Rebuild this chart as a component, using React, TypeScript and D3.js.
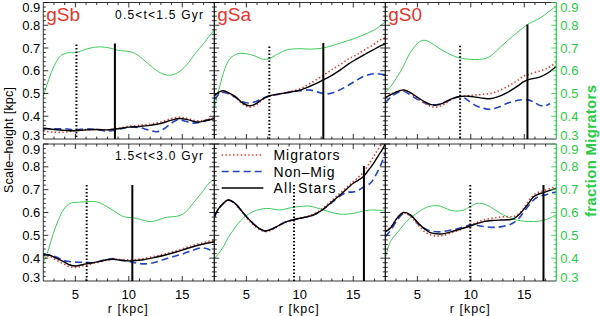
import React from 'react';
import * as d3 from 'd3';

// radius grid (kpc) and scale-height / fraction values
type Pt = [number, number];

const panelNames = ['gSb', 'gSa', 'gS0'];
const periodLabels = ['0.5<t<1.5  Gyr', '1.5<t<3.0  Gyr'];
const legendLabels = ['Migrators', 'Non\u2013Mig', 'All Stars'];
const xTicks = [5, 10, 15];
const yTicks = [0.3, 0.4, 0.5, 0.6, 0.7, 0.8, 0.9];

// ---- early period (0.5<t<1.5 Gyr) ----
const gSbEarlyFrac: Pt[] = [[2, 0.487], [2.5, 0.56], [3, 0.62], [3.6, 0.665], [4.2, 0.678], [5.1, 0.68], [6, 0.695], [7.2, 0.705], [8.2, 0.7], [9, 0.69], [10.4, 0.68], [11.3, 0.652], [12.2, 0.615], [13, 0.59], [13.8, 0.58], [14.6, 0.592], [15.4, 0.625], [16.2, 0.675], [17, 0.72], [18, 0.78]];
const gSbEarlyAll: Pt[] = [[2, 0.347], [3, 0.342], [4, 0.338], [5, 0.336], [6, 0.34], [7, 0.342], [8, 0.34], [9, 0.345], [10, 0.352], [11, 0.355], [12, 0.36], [13, 0.368], [14, 0.383], [14.8, 0.39], [15.5, 0.385], [16.3, 0.375], [17, 0.378], [18, 0.39]];
const gSbEarlyMig: Pt[] = [[2, 0.335], [3, 0.33], [4, 0.33], [4.7, 0.335], [5.5, 0.34], [7, 0.342], [8, 0.34], [9, 0.347], [10, 0.355], [11, 0.36], [12, 0.365], [13, 0.375], [14, 0.39], [14.8, 0.395], [15.5, 0.39], [16.3, 0.38], [17, 0.382], [18, 0.395]];
const gSbEarlyNon: Pt[] = [[2, 0.345], [3, 0.345], [4, 0.345], [5, 0.34], [6, 0.345], [7, 0.342], [8, 0.335], [9, 0.342], [10, 0.352], [11, 0.35], [11.8, 0.34], [12.6, 0.332], [13.3, 0.345], [14, 0.37], [14.6, 0.385], [15.3, 0.378], [16, 0.37], [16.8, 0.375], [17.5, 0.385], [18, 0.38]];

const gSaEarlyFrac: Pt[] = [[2, 0.435], [2.5, 0.53], [3, 0.61], [3.5, 0.655], [4.2, 0.675], [5, 0.675], [5.8, 0.665], [6.6, 0.65], [7.2, 0.655], [8, 0.675], [8.8, 0.692], [10, 0.697], [11, 0.695], [12.2, 0.7], [13, 0.71], [13.8, 0.722], [15, 0.74], [15.8, 0.755], [17, 0.78], [18, 0.815]];
const gSaEarlyAll: Pt[] = [[2, 0.49], [2.4, 0.505], [2.8, 0.512], [3.4, 0.502], [4, 0.485], [4.6, 0.46], [5.3, 0.446], [5.9, 0.455], [6.5, 0.475], [7.2, 0.49], [8, 0.497], [8.8, 0.504], [10, 0.515], [11, 0.533], [12.2, 0.56], [13, 0.58], [13.8, 0.604], [14.5, 0.628], [15.3, 0.651], [16, 0.67], [16.9, 0.693], [17.5, 0.708], [18, 0.718]];
const gSaEarlyMig: Pt[] = [[2, 0.488], [2.4, 0.503], [2.8, 0.51], [3.4, 0.5], [4, 0.482], [4.6, 0.455], [5.3, 0.44], [5.9, 0.45], [6.5, 0.472], [7.2, 0.49], [8, 0.497], [8.8, 0.506], [10, 0.52], [11, 0.545], [12.2, 0.58], [13, 0.605], [13.8, 0.628], [14.5, 0.65], [15.3, 0.67], [16, 0.69], [16.9, 0.715], [17.5, 0.735], [18, 0.745]];
const gSaEarlyNon: Pt[] = [[2, 0.472], [2.4, 0.495], [2.8, 0.505], [3.4, 0.497], [4, 0.482], [4.6, 0.465], [5.2, 0.458], [5.9, 0.465], [6.5, 0.478], [7.2, 0.49], [8, 0.497], [8.8, 0.504], [10, 0.512], [11, 0.515], [11.8, 0.505], [12.5, 0.498], [13.2, 0.505], [13.8, 0.517], [14.5, 0.535], [15.2, 0.555], [16, 0.576], [17, 0.587], [18, 0.582]];

const gS0EarlyFrac: Pt[] = [[2, 0.504], [2.5, 0.53], [3, 0.565], [3.7, 0.62], [4.2, 0.67], [4.7, 0.703], [5.2, 0.728], [5.6, 0.734], [6, 0.73], [6.5, 0.716], [7, 0.7], [7.8, 0.678], [8.5, 0.663], [9, 0.656], [10, 0.65], [10.8, 0.65], [11.5, 0.656], [12.2, 0.678], [12.8, 0.705], [13.5, 0.735], [14.3, 0.766], [15.3, 0.803], [16.5, 0.832], [17.3, 0.86], [18, 0.885]];
const gS0EarlyAll: Pt[] = [[2, 0.482], [2.5, 0.494], [3, 0.506], [3.7, 0.516], [4.3, 0.505], [4.8, 0.49], [5.6, 0.466], [6.2, 0.452], [6.8, 0.449], [7.4, 0.458], [8, 0.472], [8.5, 0.482], [9, 0.487], [9.8, 0.488], [10.5, 0.484], [11.2, 0.479], [11.8, 0.477], [12.5, 0.485], [13.4, 0.504], [14.3, 0.53], [15, 0.553], [15.5, 0.562], [16.5, 0.573], [17.2, 0.59], [18, 0.62]];
const gS0EarlyMig: Pt[] = [[2, 0.485], [2.5, 0.496], [3, 0.508], [3.7, 0.516], [4.3, 0.503], [4.8, 0.486], [5.6, 0.46], [6.2, 0.445], [6.8, 0.44], [7.4, 0.45], [8, 0.468], [8.5, 0.48], [9, 0.487], [9.8, 0.49], [10.5, 0.494], [11.2, 0.497], [11.8, 0.5], [12.5, 0.51], [13.4, 0.53], [14.3, 0.555], [15, 0.578], [15.5, 0.585], [16.5, 0.6], [17.2, 0.612], [18, 0.636]];
const gS0EarlyNon: Pt[] = [[2, 0.459], [2.5, 0.484], [3, 0.5], [3.7, 0.51], [4.3, 0.495], [5, 0.475], [5.7, 0.458], [6.5, 0.45], [7.2, 0.455], [7.8, 0.466], [8.5, 0.48], [9, 0.487], [9.5, 0.478], [10, 0.46], [10.6, 0.444], [11.2, 0.435], [11.8, 0.431], [12.5, 0.438], [13.4, 0.457], [14.3, 0.469], [15.2, 0.473], [15.8, 0.465], [16.5, 0.447], [17, 0.446], [17.4, 0.456]];

// ---- late period (1.5<t<3.0 Gyr) ----
const gSbLateFrac: Pt[] = [[2, 0.377], [2.5, 0.44], [2.94, 0.509], [3.4, 0.565], [3.87, 0.611], [4.5, 0.64], [5.4, 0.645], [6.2, 0.648], [7, 0.647], [7.6, 0.635], [8.24, 0.618], [9, 0.595], [9.5, 0.582], [10.7, 0.575], [11.4, 0.565], [12, 0.56], [12.8, 0.568], [13.5, 0.579], [14.2, 0.582], [14.8, 0.587], [15.4, 0.605], [16, 0.64], [16.8, 0.685], [17.5, 0.728], [18, 0.745]];
const gSbLateAll: Pt[] = [[2, 0.414], [2.6, 0.413], [3.2, 0.4], [3.9, 0.385], [4.5, 0.37], [5.1, 0.366], [6, 0.375], [7.2, 0.385], [8, 0.393], [8.55, 0.395], [9.3, 0.39], [10.1, 0.388], [11.35, 0.393], [12.6, 0.405], [13.5, 0.415], [14.5, 0.428], [15.3, 0.44], [16, 0.45], [17, 0.462], [18, 0.472]];
const gSbLateMig: Pt[] = [[2, 0.41], [2.6, 0.408], [3.2, 0.392], [3.9, 0.375], [4.5, 0.362], [5.1, 0.36], [6, 0.37], [7.2, 0.383], [8, 0.392], [8.55, 0.396], [9.3, 0.393], [10.1, 0.392], [11.35, 0.398], [12.6, 0.41], [13.5, 0.42], [14.5, 0.433], [15.3, 0.445], [16, 0.456], [17, 0.468], [18, 0.48]];
const gSbLateNon: Pt[] = [[2, 0.416], [2.6, 0.414], [3.2, 0.405], [3.9, 0.39], [4.5, 0.385], [5.3, 0.382], [6, 0.382], [6.7, 0.38], [7.5, 0.39], [8.5, 0.398], [9.3, 0.392], [10.1, 0.385], [10.8, 0.378], [11.5, 0.375], [12.3, 0.38], [13, 0.39], [14, 0.405], [15, 0.418], [16, 0.435], [16.8, 0.445], [17.4, 0.44], [18, 0.425]];

const gSaLateFrac: Pt[] = [[2, 0.399], [2.4, 0.42], [2.84, 0.45], [3.3, 0.49], [3.78, 0.523], [4.2, 0.55], [4.7, 0.575], [5.2, 0.592], [5.65, 0.604], [6.3, 0.614], [6.9, 0.618], [7.5, 0.615], [8.1, 0.611], [8.8, 0.617], [9.4, 0.623], [10.2, 0.627], [10.95, 0.628], [11.6, 0.62], [12.2, 0.611], [13, 0.6], [13.76, 0.593], [14.4, 0.593], [15, 0.596], [15.8, 0.605], [16.6, 0.611], [17.3, 0.61], [18, 0.607]];
const gSaLateAll: Pt[] = [[2, 0.582], [2.3, 0.61], [2.69, 0.633], [3.3, 0.655], [3.94, 0.64], [4.5, 0.61], [5, 0.582], [5.5, 0.558], [5.97, 0.538], [6.4, 0.525], [6.74, 0.519], [7.2, 0.524], [7.84, 0.538], [8.3, 0.55], [8.77, 0.56], [9.4, 0.568], [10, 0.575], [10.6, 0.58], [11.26, 0.589], [11.9, 0.605], [12.5, 0.626], [13.1, 0.65], [13.76, 0.677], [14.4, 0.703], [15, 0.728], [15.5, 0.742], [15.94, 0.757], [16.5, 0.79], [16.9, 0.815], [17.3, 0.845], [17.7, 0.874], [18, 0.9]];
const gSaLateMig: Pt[] = [[2, 0.58], [2.3, 0.608], [2.69, 0.632], [3.3, 0.655], [3.94, 0.638], [4.5, 0.607], [5, 0.578], [5.5, 0.553], [5.97, 0.534], [6.4, 0.521], [6.74, 0.516], [7.2, 0.521], [7.84, 0.536], [8.3, 0.549], [8.77, 0.56], [9.4, 0.568], [10, 0.576], [10.6, 0.582], [11.26, 0.592], [11.9, 0.61], [12.5, 0.632], [13.1, 0.657], [13.76, 0.684], [14.4, 0.71], [15, 0.735], [15.5, 0.755], [15.94, 0.775], [16.5, 0.815], [16.9, 0.845], [17.3, 0.875], [17.7, 0.905]];
const gSaLateNon: Pt[] = [[2, 0.578], [2.3, 0.607], [2.69, 0.632], [3.3, 0.654], [3.94, 0.64], [4.5, 0.61], [5, 0.582], [5.5, 0.558], [5.97, 0.538], [6.4, 0.525], [6.74, 0.519], [7.2, 0.524], [7.84, 0.538], [8.3, 0.55], [8.77, 0.56], [9.4, 0.568], [10, 0.575], [10.6, 0.58], [11.26, 0.589], [11.9, 0.605], [12.5, 0.625], [13.1, 0.648], [13.76, 0.672], [14.4, 0.688], [15, 0.69], [15.5, 0.698], [16, 0.712], [16.6, 0.728], [17, 0.755], [17.5, 0.8], [18, 0.86]];

const gS0LateFrac: Pt[] = [[2, 0.399], [2.47, 0.472], [3.1, 0.51], [3.7, 0.545], [4.3, 0.575], [4.96, 0.597], [5.6, 0.617], [6.2, 0.628], [7.15, 0.628], [7.8, 0.615], [8.4, 0.607], [9.3, 0.61], [9.9, 0.625], [10.6, 0.64], [11.5, 0.633], [12.3, 0.61], [13.07, 0.589], [13.7, 0.575], [14.3, 0.567], [15, 0.562], [15.87, 0.56], [16.5, 0.563], [17.1, 0.57], [18, 0.59]];
const gS0LateAll: Pt[] = [[2, 0.516], [2.47, 0.531], [3.1, 0.575], [3.7, 0.6], [4.34, 0.59], [4.8, 0.568], [5.27, 0.545], [5.7, 0.527], [6.2, 0.512], [7.15, 0.506], [7.8, 0.511], [8.4, 0.519], [9.2, 0.53], [9.95, 0.541], [10.6, 0.552], [11.2, 0.56], [12, 0.565], [12.76, 0.567], [13.5, 0.568], [14, 0.572], [14.5, 0.59], [14.9, 0.611], [15.4, 0.64], [15.87, 0.669], [16.3, 0.68], [16.8, 0.687], [17.4, 0.697], [18, 0.706]];
const gS0LateMig: Pt[] = [[2, 0.52], [2.47, 0.535], [3.1, 0.575], [3.7, 0.598], [4.34, 0.585], [4.8, 0.56], [5.27, 0.535], [5.7, 0.515], [6.2, 0.503], [6.8, 0.497], [7.4, 0.5], [8.2, 0.512], [9.2, 0.528], [9.95, 0.545], [10.6, 0.557], [11.2, 0.568], [12, 0.575], [12.76, 0.58], [13.5, 0.582], [14, 0.582], [14.5, 0.595], [14.9, 0.615], [15.4, 0.65], [15.87, 0.676], [16.3, 0.688], [16.8, 0.695], [17.4, 0.705], [18, 0.712]];
const gS0LateNon: Pt[] = [[2, 0.494], [2.47, 0.52], [3.1, 0.565], [3.7, 0.595], [4.34, 0.588], [4.8, 0.565], [5.27, 0.54], [5.7, 0.53], [6.2, 0.52], [7, 0.515], [7.8, 0.52], [8.4, 0.525], [9.2, 0.535], [9.95, 0.545], [10.6, 0.543], [11.2, 0.539], [12, 0.535], [12.76, 0.537], [13.5, 0.545], [14, 0.555], [14.5, 0.575], [15, 0.605], [15.5, 0.635], [16, 0.66], [16.5, 0.672], [17, 0.677], [17.5, 0.685], [18, 0.69]];

// marker radii [dotted, solid] and the heights their lines reach
const markerRadii = [[5.1, 8.7], [7.15, 12.2], [9.0, 15.3], [6.06, 10.33], [9.46, 16.0], [9.95, 16.8]];
const markerTops = [[0.715, 0.72], [0.707, 0.722], [0.71, 0.803], [0.72, 0.72], [0.72, 0.804], [0.72, 0.72]];

const panels = [
  { frac: gSbEarlyFrac, all: gSbEarlyAll, mig: gSbEarlyMig, non: gSbEarlyNon },
  { frac: gSaEarlyFrac, all: gSaEarlyAll, mig: gSaEarlyMig, non: gSaEarlyNon },
  { frac: gS0EarlyFrac, all: gS0EarlyAll, mig: gS0EarlyMig, non: gS0EarlyNon },
  { frac: gSbLateFrac, all: gSbLateAll, mig: gSbLateMig, non: gSbLateNon },
  { frac: gSaLateFrac, all: gSaLateAll, mig: gSaLateMig, non: gSaLateNon },
  { frac: gS0LateFrac, all: gS0LateAll, mig: gS0LateMig, non: gS0LateNon },
];

const colLeft = [43.3, 214.3, 385.3];
const colW = 171;
const rowTB = [[2.5, 139], [144, 281]];

const RED = '#e8352c';
const BLUE = '#2343c4';
const GREEN = '#3ccc5a';
const GREEN_AX = '#28cc44';
const FONT = 'Liberation Sans, Arial, sans-serif';

// IDL pushes the end labels inside the box
const labelShift = (v: number) => (v > 0.85 ? 9.5 : v < 0.35 ? 0.5 : 4.5);

const Panel = ({ i }: { i: number }) => {
  const col = i % 3;
  const row = Math.floor(i / 3);
  const x0 = colLeft[col];
  const [top, bottom] = rowTB[row];
  const x = d3.scaleLinear().domain([2, 18]).range([x0, x0 + colW]);
  const y = d3.scaleLinear().domain([0.3, 0.9]).range([bottom, top]);
  const line = d3.line<Pt>().x((d) => x(d[0])).y((d) => y(d[1])).curve(d3.curveCatmullRom.alpha(0.5));
  const p = panels[i];
  const clipId = `clip${i}`;

  const xMinor = d3.range(3, 18, 1);
  const yMinor = d3.range(0.32, 0.9, 0.02).map((v) => +v.toFixed(2));
  const rightColor = col === 2 ? GREEN_AX : '#000';

  return (
    <g>
      <defs>
        <clipPath id={clipId}>
          <rect x={x0} y={top} width={colW} height={bottom - top} />
        </clipPath>
      </defs>
      <g clipPath={`url(#${clipId})`}>
        <path d={line(p.frac) || ''} fill="none" stroke={GREEN} strokeWidth={1} />
        <path d={line(p.non) || ''} fill="none" stroke={BLUE} strokeWidth={1.6} strokeDasharray="7 4" />
        <path d={line(p.mig) || ''} fill="none" stroke={RED} strokeWidth={1.6} strokeDasharray="1.4 2.4" />
        <path d={line(p.all) || ''} fill="none" stroke="#000" strokeWidth={1.4} />
        <line x1={x(markerRadii[i][0])} x2={x(markerRadii[i][0])} y1={y(markerTops[i][0])} y2={bottom}
          stroke="#000" strokeWidth={2} strokeDasharray="1.5 2" />
        <line x1={x(markerRadii[i][1])} x2={x(markerRadii[i][1])} y1={y(markerTops[i][1])} y2={bottom}
          stroke="#000" strokeWidth={2} />
      </g>
      {/* box */}
      <line x1={x0} x2={x0 + colW} y1={top} y2={top} stroke="#000" strokeWidth={0.8} />
      <line x1={x0} x2={x0 + colW} y1={bottom} y2={bottom} stroke="#000" strokeWidth={0.8} />
      <line x1={x0} x2={x0} y1={top} y2={bottom} stroke="#000" strokeWidth={0.8} />
      <line x1={x0 + colW} x2={x0 + colW} y1={top} y2={bottom} stroke={rightColor} strokeWidth={col === 2 ? 1.2 : 0.8} />
      {/* x ticks */}
      {xTicks.map((t) => (
        <g key={'xt' + t}>
          <line x1={x(t)} x2={x(t)} y1={bottom} y2={bottom - 5} stroke="#000" strokeWidth={0.8} />
          <line x1={x(t)} x2={x(t)} y1={top} y2={top + 5} stroke="#000" strokeWidth={0.8} />
        </g>
      ))}
      {xMinor.filter((t) => t % 5 !== 0).map((t) => (
        <g key={'xm' + t}>
          <line x1={x(t)} x2={x(t)} y1={bottom} y2={bottom - 2.5} stroke="#000" strokeWidth={0.8} />
          <line x1={x(t)} x2={x(t)} y1={top} y2={top + 2.5} stroke="#000" strokeWidth={0.8} />
        </g>
      ))}
      {/* y ticks */}
      {yMinor.map((v) => {
        const major = Math.abs(v * 10 - Math.round(v * 10)) < 1e-6;
        const len = major ? 5 : 2.5;
        return (
          <g key={'ym' + v}>
            <line x1={x0} x2={x0 + len} y1={y(v)} y2={y(v)} stroke="#000" strokeWidth={0.8} />
            <line x1={x0 + colW} x2={x0 + colW - len} y1={y(v)} y2={y(v)} stroke={rightColor} strokeWidth={0.8} />
          </g>
        );
      })}
      {col === 0 && yTicks.map((v) => (
        <text key={'yl' + v} x={x0 - 3} y={y(v) + labelShift(v)} textAnchor="end" fontSize={13} fontFamily={FONT} fill="#000">
          {v.toFixed(1)}
        </text>
      ))}
      {col === 2 && yTicks.map((v) => (
        <text key={'yr' + v} x={x0 + colW + 4} y={y(v) + labelShift(v)} textAnchor="start" fontSize={13} fontFamily={FONT} fill={GREEN_AX}>
          {v.toFixed(1)}
        </text>
      ))}
      {row === 1 && xTicks.map((t) => (
        <text key={'xl' + t} x={x(t)} y={299} textAnchor="middle" fontSize={13} fontFamily={FONT} fill="#000">{t}</text>
      ))}
      {row === 1 && (
        <text x={x0 + colW / 2 - 1} y={313} textAnchor="middle" fontSize={12.5} fontFamily={FONT} fill="#000"
          textLength={40} lengthAdjust="spacing">r  [kpc]</text>
      )}
      {row === 0 && (
        <text x={x0 + 3} y={21} fontSize={19} fontFamily={FONT} fill={RED}>{panelNames[col]}</text>
      )}
      {col === 0 && (
        <text x={115} y={top + 16} fontSize={12} fontFamily={FONT} fill="#000" textLength={88} lengthAdjust="spacing">
          {periodLabels[row]}
        </text>
      )}
    </g>
  );
};

const Legend = () => {
  const x1 = 221.7;
  const x2 = 263.3;
  const ys = [155, 171.5, 188];
  const styles = [
    { stroke: RED, dash: '1.4 2.4' },
    { stroke: BLUE, dash: '7 4' },
    { stroke: '#000', dash: undefined },
  ];
  return (
    <g>
      {legendLabels.map((l, k) => (
        <g key={l}>
          <line x1={x1} x2={x2} y1={ys[k]} y2={ys[k]} stroke={styles[k].stroke} strokeWidth={1.6}
            strokeDasharray={styles[k].dash} />
          <text x={273.5} y={ys[k] + 5} fontSize={14} fontFamily={FONT} fill="#000"
            textLength={k === 0 ? 66 : k === 1 ? 61 : 62} lengthAdjust="spacing">{l}</text>
        </g>
      ))}
    </g>
  );
};

export default function App() {
  return (
    <svg width={600} height={316} style={{ position: 'absolute', left: 0, top: 0, background: '#fff' }}>
      <rect x={0} y={0} width={600} height={316} fill="#fff" />
      {panels.map((_, i) => <Panel key={i} i={i} />)}
      <Legend />
      <text transform="translate(12.5,140) rotate(-90)" textAnchor="middle" fontSize={12.5} fontFamily={FONT}
        fill="#000" textLength={106} lengthAdjust="spacing">Scale{'\u2013'}height  [kpc]</text>
      <text transform="translate(596,151) rotate(-90)" textAnchor="middle" fontSize={15} fontWeight="bold"
        fontFamily={FONT} fill={GREEN_AX} textLength={132} lengthAdjust="spacing">fraction Migrators</text>
    </svg>
  );
}
